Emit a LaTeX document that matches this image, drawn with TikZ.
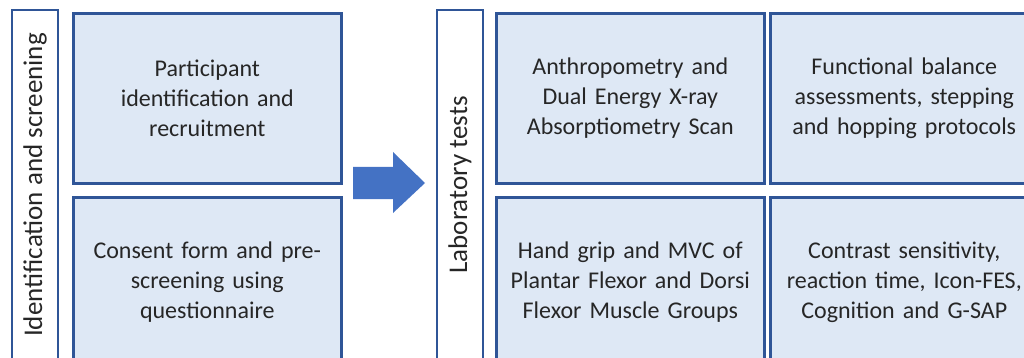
\documentclass[tikz,border=0pt]{standalone}
\usepackage{fontspec}
\setmainfont{Carlito}
\definecolor{bord}{HTML}{2F5597}
\definecolor{boxfill}{HTML}{DEE8F5}
\definecolor{arrowfill}{HTML}{4472C4}
\definecolor{txt}{HTML}{262626}
\begin{document}
\begin{tikzpicture}[x=1pt,y=-1pt,
  every node/.style={font=\fontsize{24pt}{30pt}\selectfont, text=txt, inner sep=0pt},
  stepbox/.style={draw=bord, line width=2.6pt, fill=boxfill, minimum width=268pt, minimum height=170pt, anchor=north west, align=center, text width=260pt},
  sidebox/.style={draw=bord, line width=2.6pt, fill=white, rotate=90, minimum width=350pt, minimum height=46pt, font=\fontsize{27pt}{32pt}\selectfont}]
\useasboundingbox (0,0) rectangle (1024,358);
\clip (0,0) rectangle (1024,358);
\node[sidebox] (idlabel) at (35,185) {Identification and screening};
\node[stepbox] (recruit) at (72,12) {Participant\\identification and\\recruitment};
\node[stepbox] (consent) at (72,196) {Consent form and pre-\\screening using\\questionnaire};
\node[sidebox] (lablabel) at (460,185) {Laboratory tests};
\node[stepbox] (anthro) at (495,12) {Anthropometry and\\Dual Energy X-ray\\Absorptiometry Scan};
\node[stepbox] (grip) at (495,196) {Hand grip and MVC of\\Plantar Flexor and Dorsi\\Flexor Muscle Groups};
\node[stepbox] (balance) at (769,12) {Functional balance\\assessments, stepping\\and hopping protocols};
\node[stepbox] (contrast) at (769,196) {Contrast sensitivity,\\reaction time, Icon-FES,\\Cognition and G-SAP};
\coordinate (arrowtail) at (353,183);
\coordinate (arrowtip) at (425,183);
\fill[arrowfill] (353,167) -- (393,167) -- (393,152) -- (arrowtip) -- (393,213) -- (393,199) -- (353,199) -- cycle;
\end{tikzpicture}
\end{document}
